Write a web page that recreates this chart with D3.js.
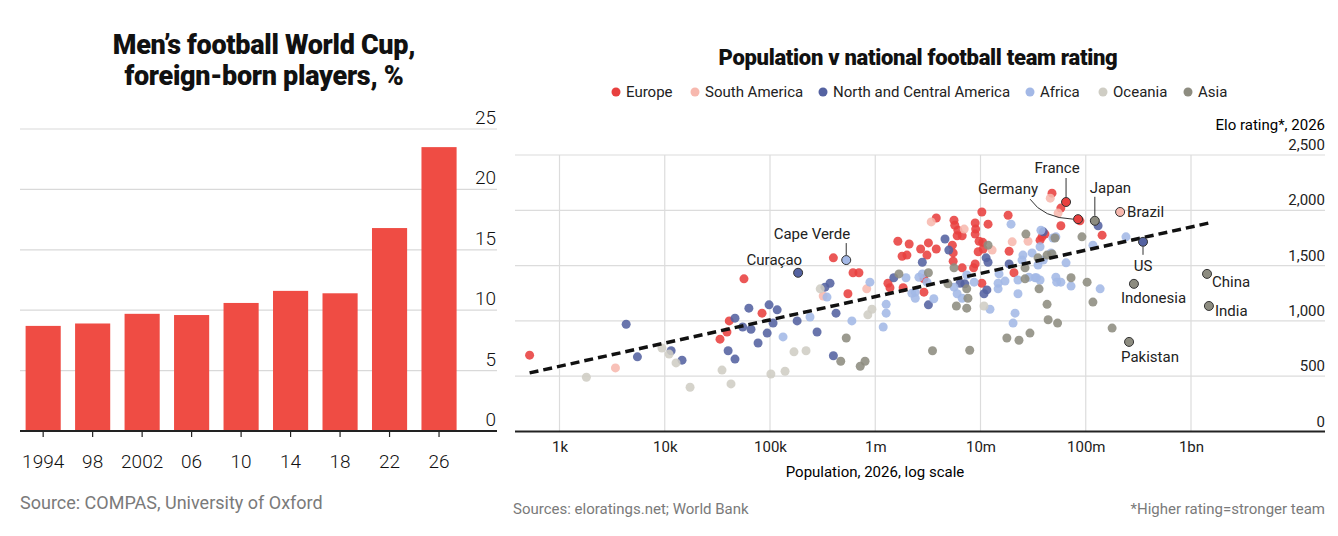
<!DOCTYPE html>
<html>
<head>
<meta charset="utf-8">
<script src="https://cdn.jsdelivr.net/npm/d3@7"></script>
<style>
  body { margin: 0; background: #fff; }
  svg { display: block; }
</style>
</head>
<body>
<div id="chart"></div>
<script>
// ---- left chart: foreign-born players, %
const years = ["1994", "98", "2002", "06", "10", "14", "18", "22", "26"];
const foreignPct = [8.7, 8.9, 9.7, 9.6, 10.6, 11.6, 11.4, 16.8, 23.5];
const pctTicks = [0, 5, 10, 15, 20, 25];

// ---- right chart: population v Elo rating, [population, elo]
const regions = ["Europe", "South America", "North and Central America", "Africa", "Oceania", "Asia"];

const europe = [
  [520, 690], [33500, 835], [41000, 1000], [39000, 900], [56600, 1380], [84000, 1070],
  [400000, 1570], [615000, 1435], [700000, 1435], [550000, 1245], [1.32e6, 1340], [1.38e6, 1300],
  [1.84e6, 1300], [2.9e6, 1380], [2.9e6, 1260], [8.9e6, 1515], [10.3e6, 1340], [20.8e6, 1435],
  [1.64e6, 1720], [2.1e6, 1695], [1.8e6, 1585], [2.0e6, 1595], [2.7e6, 1650], [3.1e6, 1595],
  [3.2e6, 1705], [3.8e6, 1650], [3.8e6, 1930], [5.6e6, 1910], [5.7e6, 1865], [6.1e6, 1820],
  [6.0e6, 1770], [6.7e6, 1770], [5.4e6, 1685], [5.5e6, 1615], [5.5e6, 1540], [6.7e6, 1480],
  [8.9e6, 1885], [9.0e6, 1830], [10.3e6, 1985], [11.8e6, 1875], [8.9e6, 1785], [9.7e6, 1720],
  [10.5e6, 1710], [10.6e6, 1650], [9.5e6, 1625], [8.6e6, 1480], [18.3e6, 1955], [18.7e6, 1630],
  [36.8e6, 1730], [38.4e6, 1760], [41e6, 1785], [47.8e6, 2155], [58e6, 2020], [58e6, 1860],
  [88e6, 1905], [143e6, 1775]
];
const southAmerica = [
  [3400, 575], [320000, 1225], [830000, 1290], [3.4e6, 1895], [7.0e6, 1830], [12.9e6, 1640],
  [20e6, 1715], [28.3e6, 1720], [46e6, 2110], [54.6e6, 1975]
];
const northCentralAmerica = [
  [4300, 970], [5500, 675], [11500, 730], [14600, 645], [40000, 730], [46500, 655],
  [46500, 1025], [63000, 1115], [55000, 945], [66000, 925], [77000, 800], [94000, 890],
  [98000, 1145], [107000, 980], [117000, 1100], [181000, 1000], [333000, 1305], [372000, 1340],
  [424000, 1070], [280000, 900], [400000, 685], [1.5e6, 1390], [3.2e6, 1145], [2.8e6, 1530],
  [6.4e6, 1340], [7.1e6, 1335], [11.5e6, 1280], [10.8e6, 1245], [18.7e6, 1515], [4.6e6, 1740],
  [5.0e6, 1640], [11.3e6, 1570], [11.8e6, 1530], [39.5e6, 1805], [131e6, 1860]
];
const africa = [
  [133000, 855], [240000, 1035], [890000, 1350], [348000, 1215], [600000, 1000], [1.27e6, 1150],
  [1.27e6, 1070], [1.19e6, 945], [1.96e6, 1390], [2.23e6, 1250], [2.4e6, 1205], [2.4e6, 1260],
  [2.6e6, 1395], [2.8e6, 1425], [3.1e6, 1350], [3.6e6, 1200], [5.6e6, 1305], [6.0e6, 1245],
  [6.7e6, 1205], [7.4e6, 1415], [8.7e6, 1350], [12.3e6, 1105], [14.7e6, 1340], [14.7e6, 1290],
  [17.1e6, 1360], [15e6, 1425], [22.7e6, 1370], [22.7e6, 1245], [21.3e6, 1070], [20.4e6, 980],
  [28.9e6, 1395], [33e6, 1390], [25.3e6, 1595], [30.9e6, 1615], [36.8e6, 1670], [19.5e6, 1875],
  [24.8e6, 1550], [37.5e6, 1820], [46.8e6, 1615], [241e6, 1760], [48.8e6, 1750], [52e6, 1760],
  [117e6, 1685], [35.2e6, 1505], [39.5e6, 1550], [65e6, 1525], [34e6, 1390], [36.8e6, 1370],
  [52e6, 1395], [53e6, 1350], [58e6, 1350], [72.5e6, 1315], [137e6, 1290]
];
const oceania = [
  [1800, 490], [9400, 755], [11000, 700], [12800, 620], [17400, 400], [35000, 555],
  [42600, 430], [102000, 520], [139000, 545], [169000, 720], [220000, 730], [300000, 1290],
  [930000, 1105], [850000, 1055], [10.8e6, 1135]
];
const asia = [
  [530000, 845], [470000, 635], [720000, 590], [800000, 635], [1.68e6, 1425], [3.2e6, 1435],
  [3.5e6, 730], [4.9e6, 1335], [7.4e6, 1290], [7.6e6, 1205], [7.4e6, 1115], [5.9e6, 1135],
  [7.9e6, 735], [26.5e6, 1380], [36e6, 1290], [17.8e6, 845], [23.2e6, 825], [29.5e6, 890],
  [42.9e6, 1150], [43.9e6, 1010], [35.2e6, 1570], [42.9e6, 1595], [5.6e6, 1480], [11.8e6, 1685],
  [27e6, 1785], [51e6, 1750], [26.5e6, 1480], [92e6, 1760], [47.8e6, 1605], [72.5e6, 1390],
  [103e6, 1350], [117e6, 1170], [54e6, 980], [178e6, 935]
];

// labelled countries: name, region, population, elo
const namedCountries = [
  ["France", "Europe", 65e6, 2075],
  ["Germany", "Europe", 84.5e6, 1920],
  ["Japan", "Asia", 122e6, 1905],
  ["Brazil", "South America", 212e6, 1985],
  ["US", "North and Central America", 350e6, 1715],
  ["China", "Asia", 1.42e9, 1425],
  ["India", "Asia", 1.48e9, 1135],
  ["Indonesia", "Asia", 287e6, 1335],
  ["Pakistan", "Asia", 258e6, 810],
  ["Cape Verde", "Africa", 530000, 1550],
  ["Curaçao", "North and Central America", 185000, 1435]
];

// fitted trend line, read at its two ends
const trendPop = [520, 1.48e9];
const trendElo = [530, 1885];

const eloTicks = [0, 500, 1000, 1500, 2000, 2500];
const popTicks = [1e3, 1e4, 1e5, 1e6, 1e7, 1e8, 1e9];
const popTickLabels = ["1k", "10k", "100k", "1m", "10m", "100m", "1bn"];

// ---------------------------------------------------------------
const width = 1338, height = 536;
const regionColor = d3.scaleOrdinal()
  .domain(regions)
  .range(["#e8403f", "#f7b8ae", "#5462a1", "#a3b8e6", "#cfcdc4", "#8d8c80"]);
const regionPoints = [europe, southAmerica, northCentralAmerica, africa, oceania, asia];

const svg = d3.select("#chart").append("svg")
  .attr("width", width)
  .attr("height", height)
  .style("font-family", "Roboto, sans-serif");

svg.append("rect").attr("width", width).attr("height", height).attr("fill", "#fff");

// ===== left: bar chart =====
const left = svg.append("g");

left.append("text")
  .attr("text-anchor", "middle")
  .style("font-size", "27px").style("font-weight", 900)
  .style("letter-spacing", "-0.3px")
  .attr("fill", "#111")
  .selectAll("tspan")
  .data(["Men\u2019s football World Cup,", "foreign-born players, %"])
  .enter().append("tspan")
  .attr("x", 264)
  .attr("y", (d, i) => 54 + i * 31)
  .text(d => d);

const xBar = d3.scaleBand()
  .domain(years)
  .range([25.6, 456.6])
  .paddingInner(0.29)
  .paddingOuter(0);

const yBar = d3.scaleLinear().domain([0, 25]).range([431, 129]);

left.append("g")
  .selectAll("line")
  .data(pctTicks.filter(d => d > 0))
  .enter().append("line")
  .attr("x1", 20).attr("x2", 497)
  .attr("y1", d => yBar(d)).attr("y2", d => yBar(d))
  .attr("stroke", "#d9d9d9").attr("stroke-width", 1.2);

left.append("g")
  .selectAll("text")
  .data(pctTicks)
  .enter().append("text")
  .attr("x", 496)
  .attr("y", d => yBar(d) - 5)
  .attr("text-anchor", "end")
  .style("font-size", "19px").style("font-weight", 300)
  .attr("fill", "#111")
  .text(d => d);

left.append("g")
  .selectAll("rect")
  .data(years.map((y, i) => ({year: y, value: foreignPct[i]})))
  .enter().append("rect")
  .attr("x", d => xBar(d.year))
  .attr("width", xBar.bandwidth())
  .attr("y", d => yBar(d.value))
  .attr("height", d => yBar(0) - yBar(d.value))
  .attr("fill", "#ef4c44");

const xAxisBar = left.append("g")
  .attr("transform", `translate(0,${yBar(0)})`)
  .call(d3.axisBottom(xBar).tickSize(6).tickPadding(18));
xAxisBar.select(".domain").remove();
xAxisBar.selectAll(".tick line").attr("stroke", "#222").attr("stroke-width", 1.2);
xAxisBar.selectAll(".tick text")
  .style("font-size", "19px").style("font-weight", 300)
  .style("font-family", "Roboto, sans-serif")
  .attr("fill", "#111");

left.append("line")
  .attr("x1", 20).attr("x2", 497)
  .attr("y1", yBar(0)).attr("y2", yBar(0))
  .attr("stroke", "#222").attr("stroke-width", 1.8);

left.append("text")
  .attr("x", 20).attr("y", 509)
  .style("font-size", "18px")
  .attr("fill", "#7a7a7a")
  .text("Source: COMPAS, University of Oxford");

// ===== right: scatter =====
const right = svg.append("g");

const xPop = d3.scaleLog().domain([1e3, 1e9]).range([559.5, 1191]);
const yElo = d3.scaleLinear().domain([0, 2500]).range([431.5, 155]);
const plotLeft = 515, plotRight = 1325;

right.append("text")
  .attr("x", 918).attr("y", 65)
  .attr("text-anchor", "middle")
  .style("font-size", "22px").style("font-weight", 900)
  .style("letter-spacing", "-0.3px")
  .attr("fill", "#111")
  .text("Population v national football team rating");

// legend
const legendX = [616, 695, 823, 1030, 1103, 1188];
const legend = right.append("g")
  .selectAll("g")
  .data(regions)
  .enter().append("g")
  .attr("transform", (d, i) => `translate(${legendX[i]},92)`);
legend.append("circle").attr("r", 4.5).attr("fill", d => regionColor(d));
legend.append("text")
  .attr("x", 10).attr("y", 5)
  .style("font-size", "15px")
  .attr("fill", "#222")
  .text(d => d);

// gridlines
right.append("g")
  .selectAll("line")
  .data(eloTicks.filter(d => d > 0))
  .enter().append("line")
  .attr("x1", plotLeft).attr("x2", plotRight)
  .attr("y1", d => yElo(d)).attr("y2", d => yElo(d))
  .attr("stroke", "#dcdcdc").attr("stroke-width", 1.2);

right.append("g")
  .selectAll("line")
  .data(popTicks)
  .enter().append("line")
  .attr("x1", d => xPop(d)).attr("x2", d => xPop(d))
  .attr("y1", yElo(2500)).attr("y2", yElo(0))
  .attr("stroke", "#dcdcdc").attr("stroke-width", 1.2);

// y labels
right.append("g")
  .selectAll("text")
  .data(eloTicks)
  .enter().append("text")
  .attr("x", plotRight)
  .attr("y", d => yElo(d) - 5)
  .attr("text-anchor", "end")
  .style("font-size", "15px")
  .attr("fill", "#222")
  .text(d => d3.format(",")(d));

right.append("text")
  .attr("x", plotRight).attr("y", 130)
  .attr("text-anchor", "end")
  .style("font-size", "15px")
  .attr("fill", "#000")
  .text("Elo rating*, 2026");

// x axis
const xAxisPop = right.append("g")
  .attr("transform", `translate(0,${yElo(0)})`)
  .call(d3.axisBottom(xPop).tickValues(popTicks)
    .tickFormat((d, i) => popTickLabels[i]).tickSize(0).tickPadding(10));
xAxisPop.select(".domain").remove();
xAxisPop.selectAll(".tick text")
  .style("font-size", "15px")
  .style("font-family", "Roboto, sans-serif")
  .attr("fill", "#222");

right.append("line")
  .attr("x1", plotLeft).attr("x2", plotRight)
  .attr("y1", yElo(0)).attr("y2", yElo(0))
  .attr("stroke", "#222").attr("stroke-width", 1.8);

right.append("text")
  .attr("x", 875).attr("y", 477)
  .attr("text-anchor", "middle")
  .style("font-size", "15px")
  .attr("fill", "#000")
  .text("Population, 2026, log scale");

// points
const pts = [];
regionPoints.forEach((arr, i) => arr.forEach(p => pts.push({region: regions[i], pop: p[0], elo: p[1]})));

right.append("g")
  .selectAll("circle")
  .data(pts)
  .enter().append("circle")
  .attr("cx", d => xPop(d.pop))
  .attr("cy", d => yElo(d.elo))
  .attr("r", 4.5)
  .attr("fill", d => regionColor(d.region))
  .attr("fill-opacity", 0.88);

// trend line
right.append("path")
  .datum(trendPop.map((p, i) => [p, trendElo[i]]))
  .attr("d", d3.line().x(d => xPop(d[0])).y(d => yElo(d[1])))
  .attr("fill", "none")
  .attr("stroke", "#111")
  .attr("stroke-width", 3.5)
  .attr("stroke-dasharray", "9,5");

// labelled countries
const labelPlace = {
  "France": {dx: -9, dy: -29, anchor: "middle", leader: "M0,-24V-5"},
  "Germany": {dx: -40, dy: -25, anchor: "end", leader: "M-48,-20Q-35,-1 -5,0"},
  "Japan": {dx: -5, dy: -28, anchor: "start", leader: "M0,-24V-5"},
  "Brazil": {dx: 7, dy: 5, anchor: "start"},
  "US": {dx: 0, dy: 29, anchor: "middle", leader: "M0,5V13"},
  "China": {dx: 5, dy: 13, anchor: "start"},
  "India": {dx: 6, dy: 10, anchor: "start"},
  "Indonesia": {dx: -13, dy: 19, anchor: "start"},
  "Pakistan": {dx: -8, dy: 20, anchor: "start"},
  "Cape Verde": {dx: 4, dy: -21, anchor: "end", leader: "M0,-17V-5"},
  "Curaçao": {dx: 4, dy: -8, anchor: "end"}
};

const named = right.append("g")
  .selectAll("g")
  .data(namedCountries)
  .enter().append("g")
  .attr("transform", d => `translate(${xPop(d[2])},${yElo(d[3])})`);

named.filter(d => labelPlace[d[0]].leader)
  .append("path")
  .attr("d", d => labelPlace[d[0]].leader)
  .attr("fill", "none")
  .attr("stroke", "#333")
  .attr("stroke-width", 1);

named.append("circle")
  .attr("r", 4.5)
  .attr("fill", d => regionColor(d[1]))
  .attr("stroke", "#333")
  .attr("stroke-width", 1);

named.append("text")
  .attr("x", d => labelPlace[d[0]].dx)
  .attr("y", d => labelPlace[d[0]].dy)
  .attr("text-anchor", d => labelPlace[d[0]].anchor)
  .style("font-size", "15px")
  .attr("fill", "#222")
  .text(d => d[0]);

right.append("text")
  .attr("x", 513).attr("y", 514)
  .style("font-size", "15px")
  .attr("fill", "#7a7a7a")
  .text("Sources: eloratings.net; World Bank");

right.append("text")
  .attr("x", plotRight).attr("y", 514)
  .attr("text-anchor", "end")
  .style("font-size", "15px")
  .attr("fill", "#7a7a7a")
  .text("*Higher rating=stronger team");
</script>
</body>
</html>
